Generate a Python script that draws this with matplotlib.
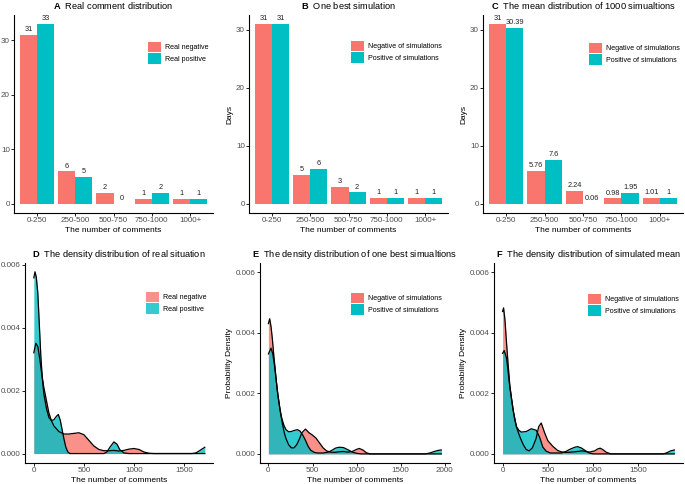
import matplotlib.pyplot as plt
import numpy as np
from matplotlib.patches import Patch

plt.rcParams['font.family'] = ['Liberation Sans', 'DejaVu Sans']
plt.rcParams['mathtext.fontset'] = 'custom'
plt.rcParams['mathtext.bf'] = 'Liberation Sans:bold'
plt.rcParams['mathtext.rm'] = 'Liberation Sans'

NEG = "#F8766D"
POS = "#00BFC4"

groups = ["0-250", "250-500", "500-750", "750-1000", "1000+"]

# bar panels
a_neg = [31, 6, 2, 1, 1]
a_pos = [33, 5, 0, 2, 1]
b_neg = [31, 5, 3, 1, 1]
b_pos = [31, 6, 2, 1, 1]
c_neg = [31, 5.76, 2.24, 0.98, 1.01]
c_pos = [30.39, 7.6, 0.06, 1.95, 1]

# density curves (x = comments, y = density)
d_neg_x = [0, 20, 40, 60, 80, 100, 125, 150, 175, 200, 250, 300, 350, 400, 450, 500, 550, 600,
           650, 700, 750, 800, 850, 900, 950, 1000, 1050, 1100, 1150, 1200, 1708]
d_neg_y = [0.0032, 0.0035, 0.0034, 0.0030, 0.0025, 0.0021, 0.0017, 0.0013, 0.00105, 0.00088,
           0.0007, 0.00062, 0.00062, 0.00064, 0.00066, 0.0006, 0.00042, 0.00024, 0.00013,
           0.00009, 0.00009, 0.0001, 0.00008, 0.0001, 0.00014, 0.00016, 0.00013, 0.00005,
           0.00001, 0, 0]
d_pos_x = [0, 12, 25, 40, 55, 70, 85, 100, 125, 150, 175, 200, 225, 245, 265, 280, 300, 320,
           340, 360, 700, 730, 760, 800, 830, 860, 900, 950, 1580, 1620, 1660, 1708]
d_pos_y = [0.00558, 0.00577, 0.0056, 0.0051, 0.0041, 0.0031, 0.0024, 0.0019, 0.00145, 0.00115,
           0.00105, 0.00107, 0.00118, 0.00124, 0.00105, 0.0008, 0.00048, 0.0002, 0.00005, 0,
           0, 0.00005, 0.0002, 0.00037, 0.0003, 0.00012, 0.00002, 0, 0, 0.00002, 0.0001, 0.0002]

e_neg_x = [0, 15, 30, 45, 60, 80, 100, 120, 140, 160, 180, 200, 230, 260, 290, 320, 350, 380,
           420, 460, 500, 540, 580, 620, 660, 700, 750, 800, 850, 900, 950, 1000, 1030, 1070,
           1110, 1150, 1960]
e_neg_y = [0.0043, 0.00446, 0.0042, 0.0038, 0.0033, 0.0027, 0.0021, 0.0017, 0.0013, 0.00098,
           0.0007, 0.0005, 0.0003, 0.0002, 0.0002, 0.0003, 0.00048, 0.0007, 0.00082, 0.0007,
           0.00062, 0.00052, 0.00036, 0.0002, 0.0001, 0.00006, 0.00005, 0.00007, 0.00008,
           0.00006, 0.00008, 0.00015, 0.00018, 0.00013, 0.00004, 0, 0]
e_pos_x = [0, 30, 50, 70, 90, 110, 130, 150, 175, 200, 230, 260, 300, 330, 360, 390, 420, 450,
           480, 520, 560, 620, 680, 720, 760, 800, 850, 900, 950, 1000, 1050, 1780, 1830, 1880,
           1930, 1960]
e_pos_y = [0.0033, 0.00349, 0.0033, 0.0029, 0.0024, 0.0019, 0.0015, 0.0012, 0.00095, 0.0008,
           0.00073, 0.00074, 0.00078, 0.0008, 0.00075, 0.00062, 0.00045, 0.00025, 0.00012,
           0.00005, 0.00003, 0.00003, 0.00006, 0.00012, 0.00019, 0.00022, 0.00021, 0.00014,
           0.00006, 0.00002, 0, 0, 0.00003, 0.00008, 0.00012, 0.00013]

f_neg_x = [0, 11, 26, 44, 62, 80, 100, 117, 135, 154, 175, 200, 230, 260, 293, 330, 370, 400,
           428, 465, 500, 556, 611, 660, 720, 800, 880, 960, 1020, 1050, 1080, 1110, 1150,
           1200, 1902]
f_neg_y = [0.0047, 0.00482, 0.00443, 0.00365, 0.00293, 0.00227, 0.0018, 0.00144, 0.00112,
           0.00089, 0.0007, 0.0005, 0.0003, 0.00015, 0.0001, 0.0002, 0.0005, 0.0009, 0.00102,
           0.0007, 0.00044, 0.00025, 0.00011, 0.00006, 0.00005, 0.00007, 0.0001, 0.00006,
           0.0001, 0.00016, 0.00019, 0.00014, 0.00005, 0, 0]
f_pos_x = [0, 18, 44, 62, 80, 100, 120, 154, 180, 208, 263, 318, 373, 410, 446, 483, 530, 650,
           700, 750, 800, 830, 870, 920, 960, 1000, 1780, 1820, 1860, 1902]
f_pos_y = [0.00332, 0.00341, 0.00316, 0.0027, 0.0022, 0.0018, 0.0014, 0.0009, 0.00078,
           0.00072, 0.00074, 0.00083, 0.00078, 0.00055, 0.00022, 0.00009, 0.00003, 0.00003,
           0.00008, 0.00016, 0.00022, 0.00024, 0.0002, 0.0001, 0.00003, 0, 0, 0.00004, 0.0001,
           0.00013]

W, H = 685, 484
fig = plt.figure(figsize=(W / 100, H / 100), dpi=100)


def add_ax(l, r, t, b):
    return fig.add_axes([l / W, 1 - b / H, (r - l) / W, (b - t) / H])


def style(ax):
    for s in ["top", "right"]:
        ax.spines[s].set_visible(False)
    for s in ["left", "bottom"]:
        ax.spines[s].set_linewidth(0.8)
    ax.tick_params(labelsize=5.8, labelcolor="#4D4D4D", length=2, width=0.6, pad=1)


def legend(ax, labels, kx, ky, alpha=1.0):
    handles = [Patch(facecolor=NEG, alpha=alpha, edgecolor="none"),
               Patch(facecolor=POS, alpha=alpha, edgecolor="none")]
    ax.legend(handles, labels, loc="upper left", bbox_to_anchor=(kx / W, 1 - ky / H),
              bbox_transform=fig.transFigure, frameon=False, fontsize=5.1,
              handlelength=1.85, handleheight=1.85, handletextpad=0.6,
              labelspacing=0.15, borderpad=0, borderaxespad=0)


def bar_panel(ax, neg, pos, title, ylabel):
    x = np.arange(len(groups))
    w = 0.45
    ax.bar(x - w / 2, neg, width=w, color=NEG)
    ax.bar(x + w / 2, pos, width=w, color=POS)
    for xi, v in zip(x - w / 2, neg):
        ax.text(xi, v + 0.3, f"{v:g}", ha="center", va="bottom", fontsize=5.3, color="#222222")
    for xi, v in zip(x + w / 2, pos):
        ax.text(xi, v + 0.3, f"{v:g}", ha="center", va="bottom", fontsize=5.3, color="#222222")
    top = max(max(neg), max(pos))
    ax.set_ylim(-0.05 * top, 1.05 * top)
    ax.set_xlim(-0.6, len(groups) - 0.4)
    ax.set_xticks(x)
    ax.set_xticklabels(groups)
    ax.set_yticks([0, 10, 20, 30])
    ax.set_xlabel("The number of comments", fontsize=6, labelpad=2)
    if ylabel:
        ax.set_ylabel("Days", fontsize=6, labelpad=2)
    ax.set_title(title, fontsize=6.7, pad=4)
    style(ax)


def dens_panel(ax, nx, ny, px, py, title, xlim, ylabel):
    ax.fill_between(nx, ny, color=NEG, alpha=0.8, lw=0)
    ax.plot(nx, ny, color="black", lw=0.9)
    ax.fill_between(px, py, color=POS, alpha=0.8, lw=0)
    ax.plot(px, py, color="black", lw=0.9)
    ax.set_xlim(*xlim)
    ax.set_ylim(-0.0003, 0.0063)
    ax.set_yticks([0, 0.002, 0.004, 0.006])
    ax.set_yticklabels(["0.000", "0.002", "0.004", "0.006"])
    ax.set_xlabel("The number of comments", fontsize=6, labelpad=2)
    if ylabel:
        ax.set_ylabel("Probability Density", fontsize=6, labelpad=2)
    ax.set_title(title, fontsize=6.7, pad=4)
    style(ax)


axA = add_ax(14, 213, 15, 213)
bar_panel(axA, a_neg, a_pos, r"$\mathbf{A}$  Real comment distribution", False)
legend(axA, ["Real negative", "Real positive"], 148, 42)

axB = add_ax(249, 448, 15, 213)
bar_panel(axB, b_neg, b_pos, r"$\mathbf{B}$  One best simulation", True)
legend(axB, ["Negative of simulations", "Positive of simulations"], 351, 41)

axC = add_ax(483, 683, 15, 213)
bar_panel(axC, c_neg, c_pos, r"$\mathbf{C}$  The mean distribution of 1000 simualtions", True)
legend(axC, ["Negative of simulations", "Positive of simulations"], 589, 43)

axD = add_ax(25, 213, 263, 463)
dens_panel(axD, d_neg_x, d_neg_y, d_pos_x, d_pos_y,
           r"$\mathbf{D}$  The density distribution of real situation", (-88, 1790), False)
axD.set_xticks([0, 500, 1000, 1500])
axD.set_ylim(-0.0003, 0.00605)
legend(axD, ["Real negative", "Real positive"], 146, 292, alpha=0.8)

axE = add_ax(260, 450, 263, 463)
dens_panel(axE, e_neg_x, e_neg_y, e_pos_x, e_pos_y,
           r"$\mathbf{E}$  The density distribution of one best simualtions", (-95, 2058), True)
axE.set_xticks([0, 500, 1000, 1500, 2000])
legend(axE, ["Negative of simulations", "Positive of simulations"], 351, 293)

axF = add_ax(494, 683, 263, 463)
dens_panel(axF, f_neg_x, f_neg_y, f_pos_x, f_pos_y,
           r"$\mathbf{F}$  The density distribution of simulated mean", (-95, 1997), True)
axF.set_xticks([0, 500, 1000, 1500])
legend(axF, ["Negative of simulations", "Positive of simulations"], 588, 294)

fig.savefig("out.png", dpi=100)
